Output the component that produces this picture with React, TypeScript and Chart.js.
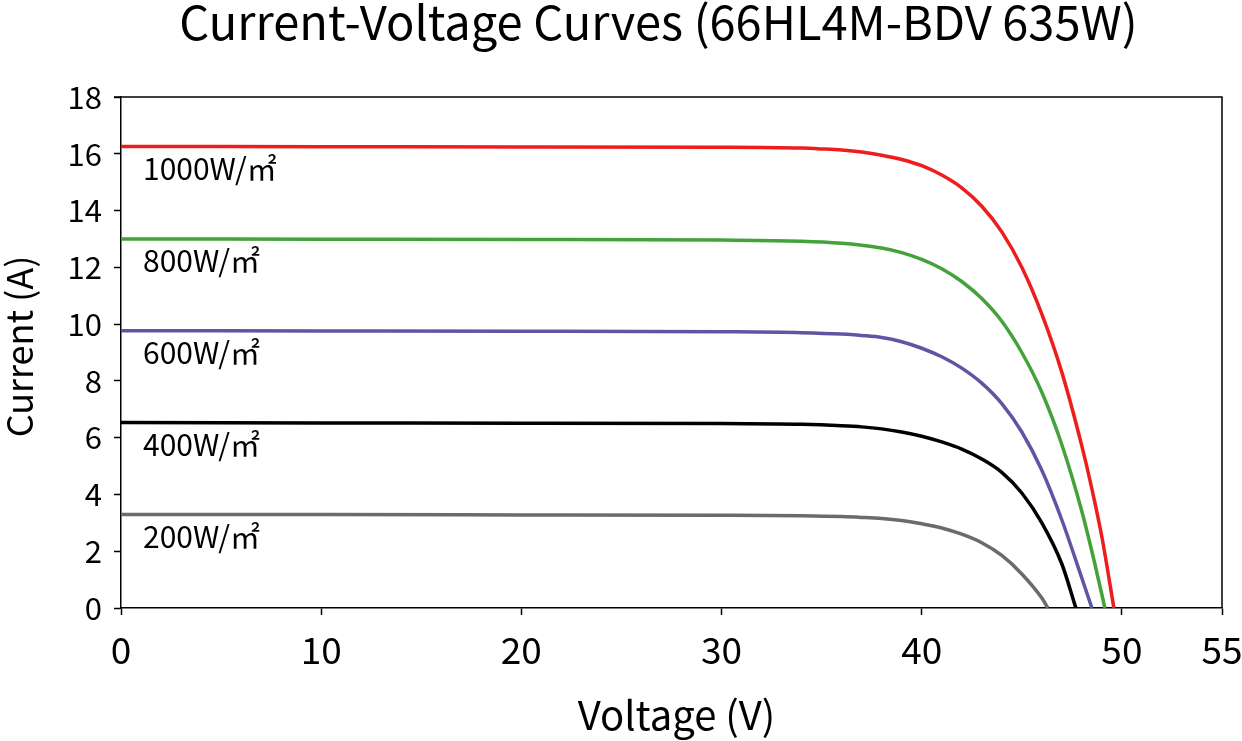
import { useEffect, useRef } from "react";
import { Chart, registerables } from "chart.js";

Chart.register(...registerables);

const FONT = '"Noto Sans CJK JP", "Noto Sans", sans-serif';

const chartTitle = "Current-Voltage Curves (66HL4M-BDV 635W)";
const xAxisTitle = "Voltage (V)";
const yAxisTitle = "Current (A)";
const xTickValues = [0, 10, 20, 30, 40, 50, 55];

const seriesLabels = ["1000W/㎡", "800W/㎡", "600W/㎡", "400W/㎡", "200W/㎡"];
const seriesColors = ["#ee1c1c", "#43a23a", "#5f56a3", "#000000", "#6b6b6b"];

const voltage1000 = [0, 10, 20, 30, 34, 35, 36, 37, 38, 39, 40, 41, 42, 43, 44, 45, 46, 47, 48, 48.5, 49, 49.6];
const current1000 = [16.26, 16.25, 16.24, 16.23, 16.2, 16.17, 16.13, 16.06, 15.95, 15.8, 15.58, 15.25, 14.8, 14.15, 13.25, 12.0, 10.35, 8.3, 5.7, 4.2, 2.5, 0];

const voltage800 = [0, 10, 20, 30, 34, 36, 37, 38, 39, 40, 41, 42, 43, 44, 45, 46, 47, 48, 48.6, 49.15];
const current800 = [13.0, 12.99, 12.98, 12.96, 12.92, 12.85, 12.78, 12.68, 12.52, 12.28, 11.95, 11.5, 10.9, 10.1, 9.0, 7.6, 5.75, 3.4, 1.7, 0];

const voltage600 = [0, 10, 20, 30, 34, 36, 37, 38, 39, 40, 41, 42, 43, 44, 45, 46, 47, 48, 48.5];
const current600 = [9.77, 9.76, 9.75, 9.73, 9.7, 9.65, 9.6, 9.53, 9.38, 9.15, 8.85, 8.45, 7.92, 7.2, 6.2, 4.85, 3.1, 1.05, 0];

const voltage400 = [0, 10, 20, 30, 34, 36, 37, 38, 39, 40, 41, 42, 43, 44, 45, 46, 47, 47.7];
const current400 = [6.53, 6.52, 6.51, 6.5, 6.47, 6.42, 6.38, 6.31, 6.2, 6.05, 5.85, 5.6, 5.25, 4.78, 4.05, 3.0, 1.55, 0];

const voltage200 = [0, 10, 20, 30, 34, 36, 37, 38, 39, 40, 41, 42, 43, 44, 45, 46, 46.3];
const current200 = [3.29, 3.29, 3.28, 3.27, 3.25, 3.22, 3.19, 3.15, 3.08, 2.97, 2.82, 2.6, 2.3, 1.85, 1.2, 0.35, 0];

const voltages = [voltage1000, voltage800, voltage600, voltage400, voltage200];
const currents = [current1000, current800, current600, current400, current200];

const decorPlugin = {
  id: "decor",
  afterDatasetsDraw(chart: any) {
    const { ctx, chartArea, scales } = chart;
    const { left, right, top, bottom } = chartArea;
    ctx.save();
    // box top & right
    ctx.strokeStyle = "#000";
    ctx.lineWidth = 1.5;
    ctx.beginPath();
    ctx.moveTo(left - 7, top);
    ctx.lineTo(right, top);
    ctx.lineTo(right, bottom);
    ctx.stroke();

    // series labels
    ctx.fillStyle = "#000";
    ctx.font = `30px ${FONT}`;
    ctx.textAlign = "left";
    ctx.textBaseline = "middle";
    seriesLabels.forEach((lbl, i) => {
      const yy = scales.y.getPixelForValue(currents[i][0]) + 22;
      ctx.fillText(lbl, left + 22, yy);
    });

    // title
    ctx.font = `47px ${FONT}`;
    ctx.textAlign = "center";
    ctx.textBaseline = "alphabetic";
    ctx.fillText(chartTitle, (left + right) / 2 - 13, 40);

    // x axis title
    ctx.font = `40px ${FONT}`;
    ctx.fillText(xAxisTitle, (left + right) / 2 + 5, 730);

    // y axis title
    ctx.font = `36px ${FONT}`;
    ctx.translate(33, (top + bottom) / 2 - 6);
    ctx.rotate(-Math.PI / 2);
    ctx.fillText(yAxisTitle, 0, 0);
    ctx.restore();
  },
};

export default function App() {
  const canvasRef = useRef<HTMLCanvasElement>(null);

  useEffect(() => {
    if (!canvasRef.current) return;
    const chart = new Chart(canvasRef.current, {
      type: "line",
      data: {
        datasets: seriesLabels.map((lbl, i) => ({
          label: lbl,
          data: voltages[i].map((v, j) => ({ x: v, y: currents[i][j] })),
          borderColor: seriesColors[i],
          backgroundColor: seriesColors[i],
          borderWidth: 3.5,
          pointRadius: 0,
          cubicInterpolationMode: "monotone" as const,
          fill: false,
        })),
      },
      options: {
        animation: false,
        responsive: true,
        maintainAspectRatio: false,
        layout: { padding: { top: 97, right: 20, left: 0, bottom: 0 } },
        plugins: {
          legend: { display: false },
          title: { display: false },
          tooltip: { enabled: false },
        },
        scales: {
          x: {
            type: "linear",
            min: 0,
            max: 55,
            afterBuildTicks: (axis: any) => {
              axis.ticks = xTickValues.map((v) => ({ value: v }));
            },
            afterFit: (scale: any) => {
              scale.height = 133;
              scale.paddingLeft = 0;
              scale.paddingRight = 0;
            },
            grid: {
              drawOnChartArea: false,
              drawTicks: true,
              tickLength: 7,
              tickWidth: 1.5,
              tickColor: "#000",
            },
            border: { display: true, color: "#000", width: 1.5 },
            ticks: {
              color: "#000",
              font: { family: FONT, size: 37 },
              padding: 13,
              maxRotation: 0,
              autoSkip: false,
            },
          },
          y: {
            type: "linear",
            min: 0,
            max: 18,
            afterFit: (scale: any) => {
              scale.width = 121;
              scale.paddingTop = 0;
              scale.paddingBottom = 0;
            },
            grid: {
              drawOnChartArea: false,
              drawTicks: true,
              tickLength: 7,
              tickWidth: 1.5,
              tickColor: "#000",
            },
            border: { display: true, color: "#000", width: 1.5 },
            ticks: {
              stepSize: 2,
              color: "#000",
              font: { family: FONT, size: 31 },
              padding: 12,
            },
          },
        },
      },
      plugins: [decorPlugin],
    });
    return () => chart.destroy();
  }, []);

  return (
    <div style={{ position: "fixed", left: 0, top: 0, width: 1242, height: 741, background: "#fff" }}>
      <canvas ref={canvasRef} />
    </div>
  );
}
